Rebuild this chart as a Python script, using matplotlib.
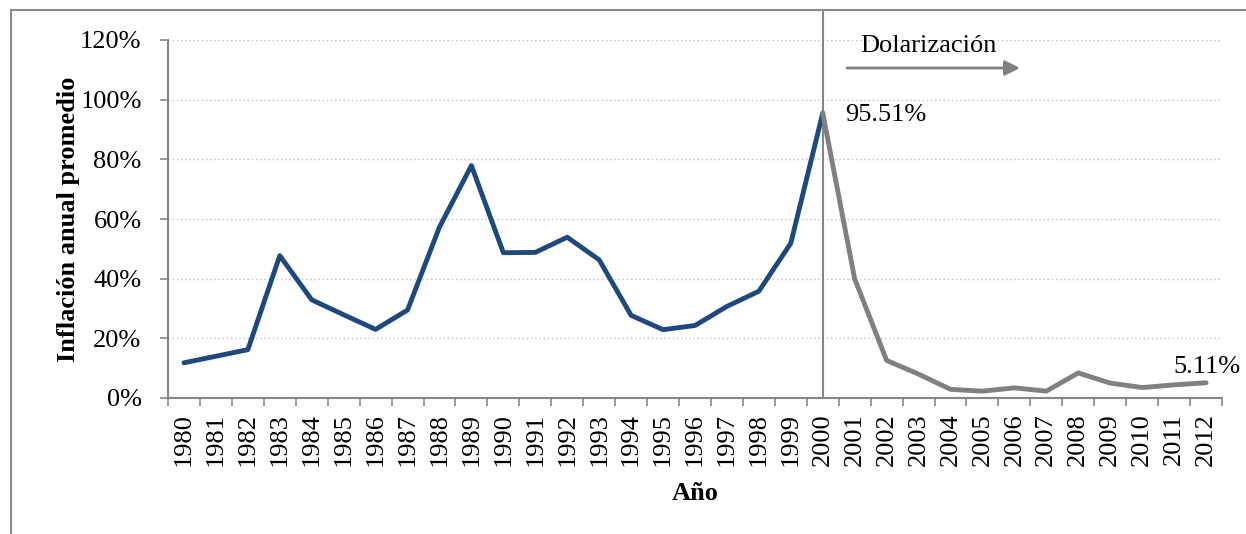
import matplotlib
matplotlib.use("Agg")
import matplotlib.pyplot as plt
from matplotlib.lines import Line2D
from matplotlib.ticker import FixedLocator, PercentFormatter
import matplotlib.transforms as mtransforms

plt.rcParams['font.family'] = ['Liberation Serif', 'DejaVu Serif']

# Average annual inflation, Ecuador (%)
years = [str(y) for y in range(1980, 2013)]
pre_dollar = [11.8, 14.0, 16.2, 47.7, 32.9, 27.9, 23.0, 29.5, 57.3, 77.9,
              48.7, 48.8, 53.9, 46.3, 27.7, 22.9, 24.3, 30.7, 35.8, 51.9, 95.51]
post_dollar = [95.51, 39.9, 12.6, 8.0, 2.9, 2.3, 3.4, 2.3, 8.4, 5.0, 3.5, 4.4, 5.11]
y_ticks = [0, 20, 40, 60, 80, 100, 120]

W, H, DPI = 1246, 534, 100
FS = 19
fig = plt.figure(figsize=(W / DPI, H / DPI), dpi=DPI)
ax = fig.add_axes([168 / W, 1 - 398 / H, (1222 - 168) / W, (398 - 40) / H])

blue = '#1F497D'
grey = '#808080'
axis_col = '#868686'

x_pre = list(range(len(pre_dollar)))
x_post = list(range(len(pre_dollar) - 1, len(pre_dollar) - 1 + len(post_dollar)))

ax.plot(x_pre, pre_dollar, color=blue, lw=3.5, solid_capstyle='round',
        solid_joinstyle='round', zorder=3)
ax.plot(x_post, post_dollar, color=grey, lw=3.5, solid_capstyle='round',
        solid_joinstyle='round', zorder=3)

ax.set_xlim(-0.5, len(years) - 0.5)
ax.set_ylim(0, 120)

# category axis: labels at centres, tick marks between categories
ax.set_xticks(range(len(years)))
ax.set_xticklabels(years, rotation=90, fontsize=FS)
ax.tick_params(axis='x', which='major', length=0, pad=11)
ax.xaxis.set_minor_locator(FixedLocator([i - 0.5 for i in range(len(years) + 1)]))
ax.tick_params(axis='x', which='minor', length=6, width=1.2, color=axis_col,
               direction='out')

ax.set_yticks(y_ticks)
ax.yaxis.set_major_formatter(PercentFormatter(decimals=0))
ax.tick_params(axis='y', length=6, width=1.2, color=axis_col, pad=13,
               labelsize=FS)

ax.grid(axis='y', linestyle=(0, (1, 2)), color='#BFBFBF', lw=1.0)
ax.set_axisbelow(True)

for s in ('top', 'right'):
    ax.spines[s].set_visible(False)
for s in ('left', 'bottom'):
    ax.spines[s].set_color(axis_col)
    ax.spines[s].set_linewidth(1.5)

ax.set_ylabel('Inflación anual promedio', fontsize=FS, fontweight='bold')
ax.yaxis.set_label_coords(-(168 - 80) / (1222 - 168), 0.5)
ax.set_xlabel('Año', fontsize=FS, fontweight='bold')
ax.xaxis.set_label_coords(0.5, -(482 - 398) / (398 - 40))

# dollarization marker line at 2000
trans = mtransforms.blended_transform_factory(ax.transData, ax.transAxes)
ax.plot([20, 20], [0, 1 + 30 / 358], transform=trans, color=axis_col, lw=1.5,
        clip_on=False, zorder=2)

# value labels
ax.annotate(f'{pre_dollar[-1]:.2f}%', xy=(20, pre_dollar[-1]), xytext=(16, -6),
            textcoords='offset points', fontsize=FS, ha='left', va='baseline')
ax.annotate(f'{post_dollar[-1]:.2f}%', xy=(32, post_dollar[-1]), xytext=(1, 7),
            textcoords='offset points', fontsize=FS, ha='center', va='baseline')

# dollarization arrow and caption
fig.text(860 / W, 1 - 52 / H, 'Dolarización', fontsize=FS, ha='left', va='baseline')
ax.annotate('', xy=(1020, H - 68), xytext=(847, H - 68), xycoords='figure pixels',
            textcoords='figure pixels',
            arrowprops=dict(arrowstyle='-|>,head_length=0.9,head_width=0.45',
                            color=grey, lw=2.0, shrinkA=0, shrinkB=0))

# outer frame
fig.add_artist(Line2D([11 / W, 1], [1 - 10 / H, 1 - 10 / H], color='#8C8C8C',
                      lw=1.5, transform=fig.transFigure))
fig.add_artist(Line2D([11 / W, 11 / W], [0, 1 - 10 / H], color='#8C8C8C',
                      lw=1.5, transform=fig.transFigure))

fig.savefig('out.png', dpi=DPI)
